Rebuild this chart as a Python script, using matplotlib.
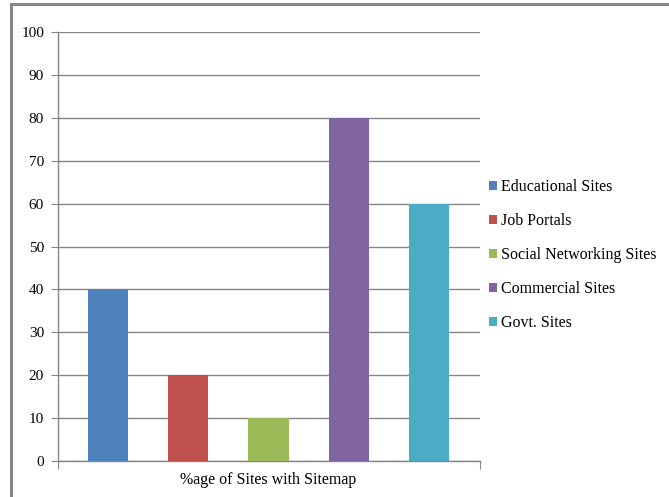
import matplotlib.pyplot as plt
from matplotlib.patches import Rectangle

series = ['Educational Sites', 'Job Portals', 'Social Networking Sites',
          'Commercial Sites', 'Govt. Sites']
values = [40, 20, 10, 80, 60]
colors = ['#4F81BD', '#C0504D', '#9BBB59', '#8064A2', '#4BACC6']
category = '%age of Sites with Sitemap'

plt.rcParams['font.family'] = ['Liberation Serif', 'DejaVu Serif']

fig = plt.figure(figsize=(6.69, 4.97), dpi=100)
ax = fig.add_axes([58 / 669, 1 - 461 / 497, (480 - 58) / 669, (461 - 32) / 497])

# outer chart border
fig.patches.append(Rectangle((11 / 669, -0.05), 1.0, 1 - 4 / 497 + 0.05,
                             transform=fig.transFigure, fill=False,
                             edgecolor='#868686', linewidth=2.2))

for i, (name, v, c) in enumerate(zip(series, values, colors)):
    ax.bar(i, v, width=0.5, color=c, label=name, zorder=3)

ax.set_xlim(-0.623, 4.636)
ax.set_ylim(0, 100)
ax.set_yticks(range(0, 101, 10))
ax.grid(axis='y', color='#868686', linewidth=1.0, zorder=0)
ax.tick_params(axis='y', length=5, color='#868686', labelsize=11, pad=5)
ax.set_xticks([-0.623, 4.636])
ax.set_xticklabels(['', ''])
ax.tick_params(axis='x', length=6, color='#868686')
ax.text(0.497, -0.045, category, transform=ax.transAxes, ha='center', va='center',
        fontsize=11.5)
for s in ['top', 'right']:
    ax.spines[s].set_visible(False)
for s in ['left', 'bottom']:
    ax.spines[s].set_color('#868686')
    ax.spines[s].set_linewidth(1.0)

fig.legend(loc='upper left', bbox_to_anchor=(483 / 669, 1 - 173 / 497),
           frameon=False, fontsize=11.5, handlelength=0.45, handleheight=0.45,
           handletextpad=0.3, labelspacing=1.12, borderaxespad=0)

fig.savefig('out.png', dpi=100)
